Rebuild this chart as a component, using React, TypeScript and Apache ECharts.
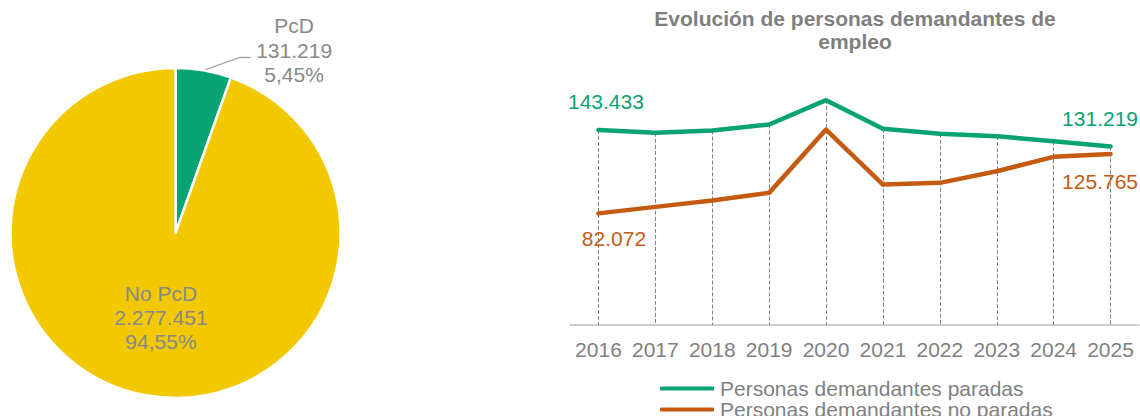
import React, { useEffect, useRef } from "react";
import * as echarts from "echarts";

const years = ["2016", "2017", "2018", "2019", "2020", "2021", "2022", "2023", "2024", "2025"];
const paradas = [143433, 141312, 143005, 147421, 165306, 144256, 140576, 138810, 135130, 131219];
const noParadas = [82072, 86848, 91485, 97152, 143741, 103261, 104512, 113050, 123648, 125765];
const pieNames = ["PcD", "No PcD"];
const pieValues = [131219, 2277451];

const GREEN = "#07A372";
const ORANGE = "#C55A11";
const YELLOW = "#F2C800";
const FONT = "'Liberation Sans', Arial, sans-serif";

function fmt(n: number): string {
  const s = Math.round(n).toString();
  return s.replace(/\B(?=(\d{3})+(?!\d))/g, ".");
}

export default function App() {
  const ref = useRef<HTMLDivElement>(null);
  useEffect(() => {
    document.body.style.margin = "0";
    if (!ref.current) return;
    const chart = echarts.init(ref.current, undefined, { renderer: "svg" });
    const last = years.length - 1;
    const lineData = (vals: number[], color: string, first: number[], lastPos: number[]) =>
      vals.map((v, i) => {
        if (i === 0 || i === last) {
          return {
            value: v,
            label: {
              show: true,
              position: i === 0 ? first : lastPos,
              align: "center",
              verticalAlign: "middle",
              formatter: () => fmt(v),
              color,
              fontSize: 21,
              lineHeight: 21,
              fontFamily: FONT,
            },
          };
        }
        return { value: v };
      });

    chart.setOption({
      animation: false,
      textStyle: { fontFamily: FONT },
      title: {
        text: "Evolución de personas demandantes de\nempleo",
        left: 855,
        top: 7,
        textAlign: "center",
        padding: 0,
        textStyle: { fontSize: 21, fontWeight: "bold", color: "#7f7f7f", lineHeight: 23, fontFamily: FONT },
      },
      legend: {
        orient: "vertical",
        left: 660,
        top: 378,
        height: 80,
        padding: 0,
        itemGap: 0,
        itemWidth: 54,
        itemHeight: 4,
        icon: "roundRect",
        textStyle: { fontSize: 21, color: "#7f7f7f", lineHeight: 20, fontFamily: FONT, padding: [0, 0, 0, 1] },
        data: ["Personas demandantes paradas", "Personas demandantes no paradas"],
      },
      grid: { left: 570, right: 1, top: 53, bottom: 91 },
      xAxis: {
        type: "category",
        data: years,
        boundaryGap: true,
        axisTick: { show: false },
        axisLine: { lineStyle: { color: "#bfbfbf", width: 1.5 } },
        axisLabel: { fontSize: 21, color: "#7f7f7f", margin: 14, fontFamily: FONT, interval: 0 },
        splitLine: { show: false },
      },
      yAxis: {
        type: "value",
        min: 0,
        max: 200000,
        show: false,
        splitLine: { show: false },
      },
      series: [
        {
          type: "pie",
          center: [175.5, 233],
          radius: 165,
          startAngle: 90,
          clockwise: true,
          avoidLabelOverlap: false,
          itemStyle: { borderColor: "#ffffff", borderWidth: 2.5 },
          label: {
            fontSize: 21,
            lineHeight: 24.5,
            color: "#888888",
            fontFamily: FONT,
            formatter: (p: any) => `${p.name}\n${fmt(p.value)}\n${p.percent.toFixed(2).replace(".", ",")}%`,
          },
          labelLine: { lineStyle: { color: "#a6a6a6", width: 1.5 }, length: 10, length2: 10 },
          labelLayout: (p: any) => {
            if (p.dataIndex !== 0 || !p.labelLinePoints) return {};
            const [x0, y0] = p.labelLinePoints[0];
            return {
              x: x0 + 90.5,
              y: y0 - 20,
              align: "center",
              verticalAlign: "middle",
              labelLinePoints: [
                [x0, y0],
                [x0 + 36, y0 - 13],
                [x0 + 47, y0 - 13],
              ],
            };
          },
          data: [
            { name: pieNames[0], value: pieValues[0], itemStyle: { color: GREEN }, label: { position: "outside" } },
            {
              name: pieNames[1],
              value: pieValues[1],
              itemStyle: { color: YELLOW },
              label: { position: "inside", lineHeight: 24 },
              labelLine: { show: false },
            },
          ],
        },
        {
          name: "Personas demandantes paradas",
          type: "line",
          symbol: "circle",
          symbolSize: 1,
          itemStyle: { color: GREEN },
          lineStyle: { color: GREEN, width: 4.5, cap: "round", join: "round" },
          z: 3,
          data: lineData(paradas, GREEN, [8, -27.5], [-10, -28]),
          markLine: {
            silent: true,
            z: 1,
            symbol: ["none", "none"],
            label: { show: false },
            lineStyle: { color: "#808080", width: 1, type: [4, 2] },
            data: years.map((_, i) => [
              { coord: [i, Math.max(paradas[i], noParadas[i])] },
              { coord: [i, 0] },
            ]),
          },
        },
        {
          name: "Personas demandantes no paradas",
          type: "line",
          symbol: "circle",
          symbolSize: 1,
          itemStyle: { color: ORANGE },
          lineStyle: { color: ORANGE, width: 4.5, cap: "round", join: "round" },
          z: 3,
          data: lineData(noParadas, ORANGE, [16, 26], [-10, 28]),
        },
      ],
    });
    return () => chart.dispose();
  }, []);
  return <div ref={ref} style={{ width: 1140, height: 416 }} />;
}
